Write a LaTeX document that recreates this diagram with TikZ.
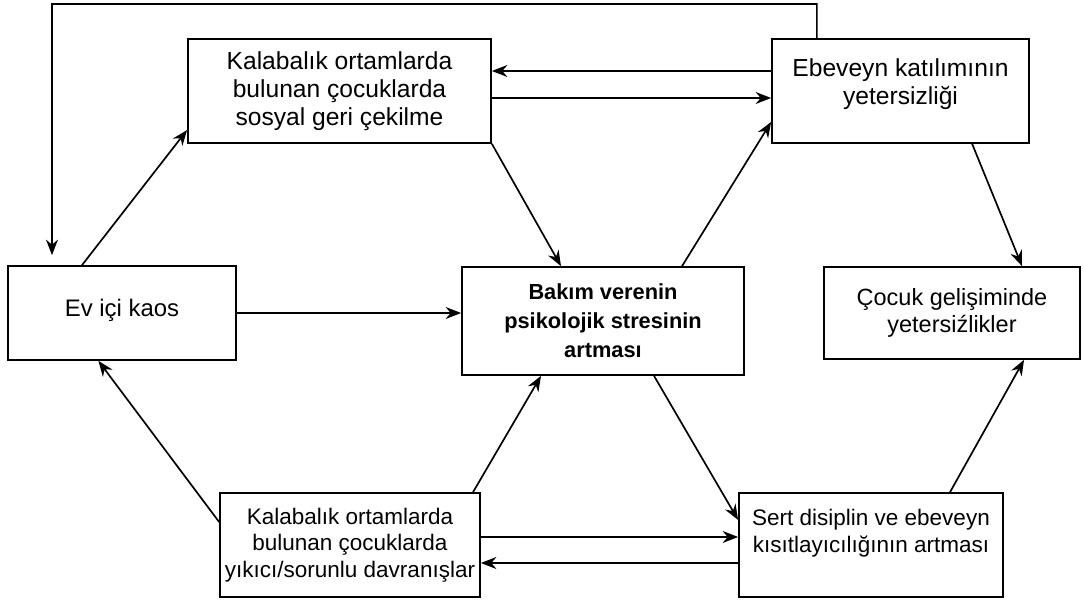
\documentclass[tikz,border=0pt]{standalone}
\usepackage{fontspec}
\setmainfont{Liberation Sans}
\usetikzlibrary{arrows.meta}

\begin{document}
\begin{tikzpicture}[
	x=0.025cm, y=-0.025cm,
	box/.style={
		draw, line width=1.2pt,
		align=center, inner xsep=1pt,
		font=\fontsize{17.5}{20}\selectfont
	},
	arr/.style={-{Stealth[length=11pt, width=8.5pt]}, line width=1.2pt}
]
\useasboundingbox (0,0) rectangle (1084,603);

\node[box, minimum width=7.575cm, minimum height=2.6cm]  (withdraw) at (339.5, 91) {Kalabalık ortamlarda\\bulunan çocuklarda\\sosyal geri çekilme};
\node[box, minimum width=6.425cm, minimum height=2.6cm]  (involve)  at (900.5, 91) {Ebeveyn katılımının\\yetersizliği\rule[-0.47cm]{0pt}{0.47cm}};
\node[box, minimum width=5.7cm,   minimum height=2.35cm, font=\fontsize{17}{20}\selectfont] (chaos) at (122, 313) {Ev içi kaos\rule[-0.25cm]{0pt}{0.25cm}};
\node[box, minimum width=7.05cm,  minimum height=2.7cm,  font=\fontsize{15.5}{20.6}\selectfont\bfseries] (stress) at (603, 321) {Bakım verenin\\psikolojik stresinin\\artması};
\node[box, minimum width=6.4cm,   minimum height=2.3cm,  font=\fontsize{16.7}{19.5}\selectfont] (develop) at (952, 313) {Çocuk gelişiminde\\yetersiźlikler};
\node[box, minimum width=6.5cm,   minimum height=2.6cm,  font=\fontsize{16}{19}\selectfont] (disrupt) at (350, 545) {Kalabalık ortamlarda\\bulunan çocuklarda\\yıkıcı/sorunlu davranışlar};
\node[box, minimum width=6.6cm,   minimum height=2.6cm,  font=\fontsize{16}{19.5}\selectfont] (harsh) at (871, 545) {Sert disiplin ve ebeveyn\\kısıtlayıcılığının artması\rule[-0.72cm]{0pt}{0.72cm}};

\coordinate (topleft) at (52, 4);

% feedback loop over the top
\draw[arr] ([xshift=-2.09cm]involve.north) |- (topleft) -- ([xshift=-1.75cm, yshift=0.25cm]chaos.north);

\draw[arr] ([yshift=0.5cm]involve.west)     -- ([yshift=0.5cm]withdraw.east);
\draw[arr] ([yshift=-0.175cm]withdraw.east) -- ([yshift=-0.175cm]involve.west);
\draw[arr] ([xshift=-1cm]chaos.north)       -- ([yshift=-0.975cm]withdraw.west);
\draw[arr] (withdraw.south east)            -- ([xshift=-1.05cm]stress.north);
\draw[arr] ([xshift=1.975cm]stress.north)   -- ([yshift=-0.775cm]involve.west);
\draw[arr] ([xshift=1.79cm]involve.south)   -- ([xshift=1.75cm]develop.north);
\draw[arr] (chaos.east)                     -- (chaos.east -| stress.west);
\draw[arr] ([yshift=0.575cm]disrupt.west)   -- ([xshift=-0.59cm]chaos.south);
\draw[arr] ([xshift=3.075cm]disrupt.north)  -- ([xshift=-1.55cm]stress.south);
\draw[arr] ([xshift=1.275cm]stress.south)   -- ([yshift=0.625cm]harsh.west);
\draw[arr] ([yshift=0.2cm]disrupt.east)     -- ([yshift=0.2cm]harsh.west);
\draw[arr] ([yshift=-0.45cm]harsh.west)     -- ([yshift=-0.45cm]disrupt.east);
\draw[arr] ([xshift=1.975cm]harsh.north)    -- ([xshift=1.8cm]develop.south);

\end{tikzpicture}
\end{document}
